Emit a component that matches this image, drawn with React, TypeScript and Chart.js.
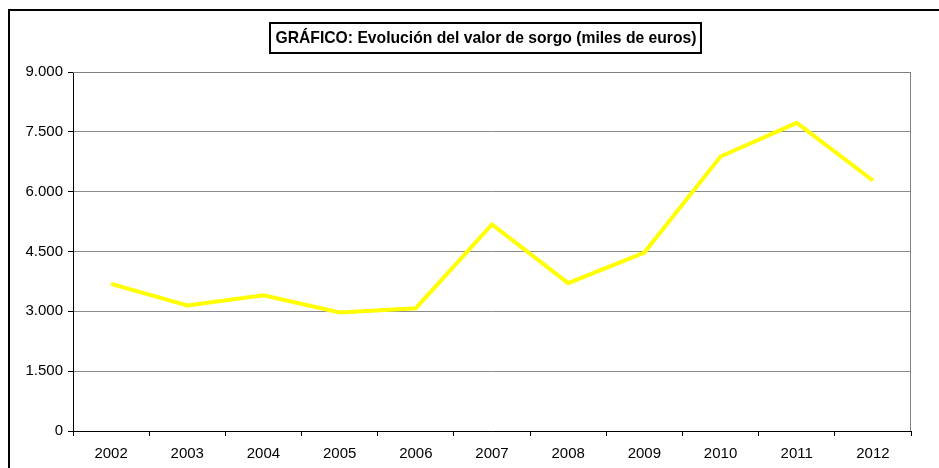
import React, { useEffect, useRef } from "react";
import { Chart, registerables } from "chart.js";

Chart.register(...registerables);

const years = ["2002", "2003", "2004", "2005", "2006", "2007", "2008", "2009", "2010", "2011", "2012"];
const valorSorgo = [3690, 3146, 3405, 2971, 3079, 5177, 3706, 4475, 6881, 7726, 6280];
const yTicks = [0, 1500, 3000, 4500, 6000, 7500, 9000];
const titleText = "GRÁFICO: Evolución del valor de sorgo (miles de euros)";

const FONT = "'Liberation Sans', Arial, sans-serif";

function fmt(v: number): string {
  return Math.round(v).toString().replace(/\B(?=(\d{3})+(?!\d))/g, ".");
}

const framePlugin = {
  id: "frame",
  beforeDatasetsDraw(chart: any) {
    const { ctx, chartArea } = chart;
    ctx.save();
    ctx.strokeStyle = "#808080";
    ctx.lineWidth = 1;
    ctx.beginPath();
    ctx.moveTo(chartArea.left, chartArea.top + 0.5);
    ctx.lineTo(chartArea.right - 0.5, chartArea.top + 0.5);
    ctx.lineTo(chartArea.right - 0.5, chartArea.bottom);
    ctx.stroke();
    ctx.restore();
  },
  afterDraw(chart: any) {
    const { ctx } = chart;
    ctx.save();
    ctx.strokeStyle = "#000";
    ctx.lineWidth = 2;
    ctx.strokeRect(9, 10, 960, 500);
    ctx.fillStyle = "#fff";
    ctx.fillRect(269, 22, 433, 32);
    ctx.lineWidth = 2;
    ctx.strokeRect(270, 23, 431, 30);
    ctx.fillStyle = "#000";
    ctx.font = `bold 15.7px ${FONT}`;
    ctx.textAlign = "center";
    ctx.textBaseline = "middle";
    ctx.fillText(titleText, 486, 38.5);
    ctx.restore();
  },
};

export default function App() {
  const ref = useRef<HTMLCanvasElement | null>(null);
  useEffect(() => {
    if (!ref.current) return;
    const chart = new Chart(ref.current, {
      type: "line",
      data: {
        labels: years,
        datasets: [
          {
            data: valorSorgo,
            borderColor: "#FFFF00",
            backgroundColor: "#FFFF00",
            borderWidth: 4,
            pointRadius: 0,
            tension: 0,
            fill: false,
          },
        ],
      },
      options: {
        animation: false,
        responsive: false,
        devicePixelRatio: 1,
        layout: { padding: { left: 0, top: 72, right: 28, bottom: 0 } },
        plugins: { legend: { display: false }, title: { display: false }, tooltip: { enabled: false } },
        scales: {
          x: {
            type: "category",
            offset: true,
            grid: {
              offset: true,
              drawOnChartArea: false,
              drawTicks: true,
              tickLength: 5,
              tickColor: "#000",
            },
            border: { color: "#000", width: 1 },
            ticks: {
              color: "#000",
              font: { family: FONT, size: 15 },
              padding: 9,
              maxRotation: 0,
              autoSkip: false,
            },
            afterFit(scale: any) {
              scale.height = 37;
            },
          },
          y: {
            min: 0,
            max: 9000,
            afterBuildTicks(scale: any) {
              scale.ticks = yTicks.map((v) => ({ value: v }));
            },
            grid: {
              color: "#8c8c8c",
              drawTicks: true,
              tickLength: 5,
              tickColor: "#000",
            },
            border: { color: "#000", width: 1 },
            ticks: {
              color: "#000",
              font: { family: FONT, size: 15 },
              padding: 5,
              callback: (v: any) => fmt(Number(v)),
            },
            afterFit(scale: any) {
              scale.width = 73;
            },
          },
        },
      },
      plugins: [framePlugin],
    });
    return () => chart.destroy();
  }, []);
  return (
    <div style={{ position: "absolute", left: 0, top: 0, width: 939, height: 468, background: "#fff" }}>
      <canvas ref={ref} width={939} height={468} style={{ display: "block" }} />
    </div>
  );
}
